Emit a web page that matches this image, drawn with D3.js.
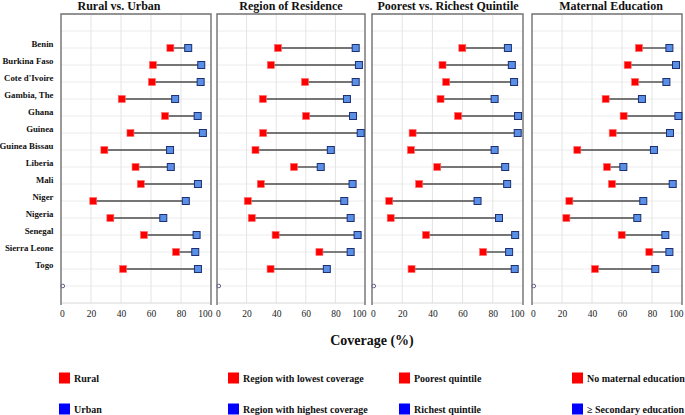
<!DOCTYPE html>
<html><head><meta charset="utf-8">
<script src="https://cdn.jsdelivr.net/npm/d3@7"></script>
<style>body{margin:0;background:#fff}svg{display:block}
svg text{font-family:"Liberation Serif","Tinos","Times New Roman","DejaVu Serif",serif !important}</style>
</head><body><svg id="c" width="685" height="415"></svg>
<script>
const countries = ["Benin","Burkina Faso","Cote d'Ivoire","Gambia, The","Ghana","Guinea","Guinea Bissau","Liberia","Mali","Niger","Nigeria","Senegal","Sierra Leone","Togo"];
const panelTitles = ["Rural vs. Urban","Region of Residence","Poorest vs. Richest Quintile","Maternal Education"];
const lowValues = [
  [72.9,61.3,60.6,40.5,69.4,46.3,28.9,49.7,53.2,21.5,32.9,55.3,76.7,41.4],
  [41.2,36.4,59.5,31.0,60.2,31.2,26.0,52.0,29.6,20.8,23.5,39.6,69.2,36.2],
  [59.8,46.7,49.1,45.4,57.0,26.9,25.8,43.2,31.2,11.4,12.4,35.8,73.6,26.2],
  [71.3,63.8,68.7,49.1,61.1,53.8,30.2,50.0,53.3,24.9,22.9,59.8,78.2,42.0]
];
const highValues = [
  [84.8,93.5,93.1,76.1,91.1,94.6,72.7,73.2,91.3,83.2,68.2,90.4,89.5,91.3],
  [93.7,95.9,93.7,87.8,91.9,97.1,76.9,70.1,91.6,86.0,90.3,95.0,90.3,74.2],
  [90.0,92.6,94.1,81.2,96.7,96.5,81.2,88.2,89.5,69.9,84.1,94.8,90.8,94.5],
  [91.6,96.0,89.6,73.3,97.6,92.0,81.3,60.9,93.8,74.2,70.2,88.9,91.6,82.2]
];
const tickValues = [0,20,40,60,80,100];
const legendLow = ["Rural","Region with lowest coverage","Poorest quintile","No maternal education"];
const legendHigh = ["Urban","Region with highest coverage","Richest quintile","≥ Secondary education"];
const axisTitle = "Coverage (%)";

const svg = d3.select("#c");
const panels = [{x:61,w:150},{x:217,w:148},{x:372,w:151},{x:532,w:150}];
const titleX = [119,291,448,611];
const plotTop = 14, plotBottom = 303;
const rows = ["__top", ...countries, "__bottom"];
const y = d3.scalePoint().domain(rows).range([plotTop, plotBottom]).padding(1);

panels.forEach((p, i) => {
  const x = d3.scaleLinear().domain([0,100]).range([p.x, p.x + p.w]);
  const g = svg.append("g");
  g.selectAll(".hg").data(rows).join("line")
    .attr("x1", p.x).attr("x2", p.x + p.w)
    .attr("y1", d => y(d)).attr("y2", d => y(d))
    .attr("stroke", "#ececec").attr("stroke-width", 1);
  g.selectAll(".vg").data([20,40,60,80]).join("line")
    .attr("x1", d => x(d)).attr("x2", d => x(d))
    .attr("y1", plotTop).attr("y2", plotBottom)
    .attr("stroke", "#e4e4e4").attr("stroke-width", 1);
  // bottom border (light) then top + sides (dark)
  g.append("line").attr("x1", p.x).attr("x2", p.x + p.w).attr("y1", plotBottom).attr("y2", plotBottom)
    .attr("stroke", "#d8d8d8").attr("stroke-width", 1);
  g.append("path")
    .attr("d", `M${p.x},${plotBottom + 2}V${plotTop}H${p.x + p.w}V${plotBottom + 2}`)
    .attr("fill", "none").attr("stroke", "#707070").attr("stroke-width", 1.4);
  const ax = g.append("g").attr("transform", `translate(0,${plotBottom})`)
    .call(d3.axisBottom(x).tickValues(tickValues).tickSize(0).tickPadding(7).tickFormat(d3.format("d")));
  ax.select(".domain").remove();
  ax.selectAll("line").remove();
  ax.selectAll("text").attr("font-size", 9.5).attr("fill", "#222")
    .attr("text-anchor", d => d === 0 ? "start" : d === 100 ? "end" : "middle")
    .attr("x", d => d === 0 ? -1.5 : d === 100 ? 1 : 0);
  g.append("text").attr("x", titleX[i]).attr("y", 10).attr("text-anchor", "middle")
    .attr("font-weight", "bold").attr("font-size", 12).attr("fill", "#111")
    .text(panelTitles[i]);
  g.selectAll(".cn").data(countries).join("line")
    .attr("x1", (d, j) => x(lowValues[i][j])).attr("x2", (d, j) => x(highValues[i][j]))
    .attr("y1", d => y(d)).attr("y2", d => y(d))
    .attr("stroke", "#4a4a4a").attr("stroke-width", 1.4);
  g.selectAll(".lo").data(countries).join("rect")
    .attr("x", (d, j) => x(lowValues[i][j]) - 3.5).attr("y", d => y(d) - 3.5)
    .attr("width", 7).attr("height", 7)
    .attr("fill", "#ff0000").attr("stroke", "#ff6a6a").attr("stroke-width", 0.6);
  g.selectAll(".hi").data(countries).join("rect")
    .attr("x", (d, j) => x(highValues[i][j]) - 3.5).attr("y", d => y(d) - 3.5)
    .attr("width", 7).attr("height", 7)
    .attr("fill", "#5a8fe8").attr("stroke", "#1f2f70").attr("stroke-width", 1);
  g.append("circle").attr("cx", x(0) + 1.8).attr("cy", y("__bottom")).attr("r", 1.8)
    .attr("fill", "#fff").attr("stroke", "#3a3a6a").attr("stroke-width", 0.8);
});

svg.append("g").selectAll("text").data(countries).join("text")
  .attr("x", 53.5).attr("y", d => y(d) - 1)
  .attr("text-anchor", "end")
  .attr("font-weight", "bold").attr("font-size", 8.8).attr("fill", "#111")
  .text(d => d);

svg.append("text").attr("x", 372).attr("y", 345).attr("text-anchor", "middle")
  .attr("font-weight", "bold").attr("font-size", 14).attr("fill", "#111")
  .text(axisTitle);

const legX = [59, 228, 399, 572];
const legRows = [{labels: legendLow, color: "#ff0000", cy: 378}, {labels: legendHigh, color: "#0000ff", cy: 409}];
legRows.forEach(r => {
  const lg = svg.append("g");
  lg.selectAll("rect").data(r.labels).join("rect")
    .attr("x", (d, k) => legX[k]).attr("y", r.cy - 5.5).attr("width", 11).attr("height", 11)
    .attr("fill", r.color);
  lg.selectAll("text").data(r.labels).join("text")
    .attr("x", (d, k) => legX[k] + 15).attr("y", r.cy + 3.5)
    .attr("font-weight", "bold").attr("font-size", 10).attr("fill", "#111")
    .text(d => d);
});
</script></body></html>
